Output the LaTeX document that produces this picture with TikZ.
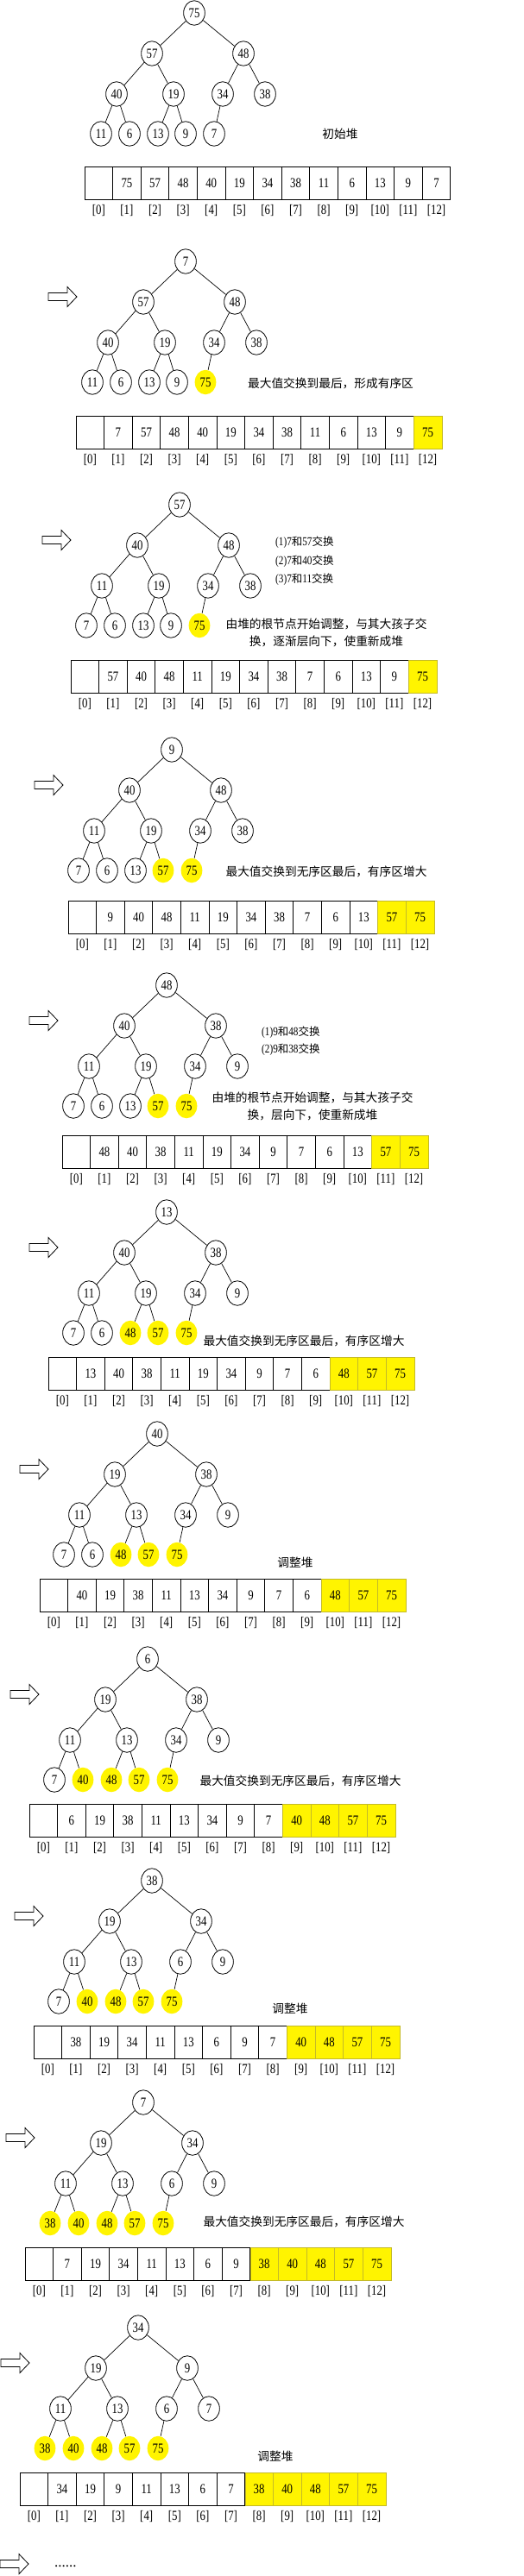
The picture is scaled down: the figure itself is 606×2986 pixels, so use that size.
\documentclass[tikz,border=0pt]{standalone}
\usepackage{fontspec}
\setmainfont{Liberation Serif}
\newfontfamily\numfont[FakeStretch=0.8]{Liberation Serif}
\newfontfamily\cjk{Noto Sans CJK SC}
\usetikzlibrary{shapes.geometric}
\definecolor{sortedyellow}{RGB}{255,244,0}
\definecolor{sortedline}{RGB}{196,186,40}

\newcommand\zh[1]{{\fontsize{12.5}{15}\selectfont\cjk #1}}

% one stage: prefix, root x/y, array corner x/y, sorted count, values [1]..[12]
\newcommand\heapstage[7]{%
  \node[cell] (#1-a0) at (#4+16.3,#5+19) {};
  \node[idx] (#1-i0) at (#4+16.3,#5+51) {[0]};
  \foreach \v [count=\i] in {#7}{
    \pgfmathsetmacro\dx{{0,-49,57,-90,-24,33,82,-108,-75,-42,-10,23}[\i-1]}
    \pgfmathsetmacro\dy{{0,47,47,94,94,94,94,140,140,140,140,140}[\i-1]}
    \ifnum\i>\numexpr12-#6\relax
      \tikzset{nodelook/.style={sortednode},celllook/.style={sortedcell}}
    \else
      \tikzset{nodelook/.style={heapnode},celllook/.style={cell}}
    \fi
    \node[nodelook] (#1-\i) at (#2+\dx,#3+\dy) {\v};
    \node[celllook] (#1-a\i) at (#4+32.6*\i+16.3,#5+19) {\v};
    \node[idx] (#1-i\i) at (#4+32.6*\i+16.3,#5+51) {[\i]};
  }
  \foreach \i in {2,...,12}{
    \pgfmathtruncatemacro\p{\i/2}
    \draw[link] (#1-\p) -- (#1-\i);
  }
}

\begin{document}
\begin{tikzpicture}[x=1pt,y=-1pt,
    heapnode/.style={ellipse,draw,line width=0.8pt,minimum width=24.7pt,minimum height=28.5pt,
      inner sep=0pt,font=\numfont\fontsize{16}{18}\selectfont},
    sortednode/.style={heapnode,draw=none,fill=sortedyellow},
    cell/.style={draw,line width=0.9pt,minimum width=32.6pt,minimum height=38pt,inner sep=0pt,
      font=\numfont\fontsize{16}{18}\selectfont},
    sortedcell/.style={cell,fill=sortedyellow,draw=sortedline,line width=0.5pt},
    idx/.style={inner sep=0pt,font=\numfont\fontsize{16}{18}\selectfont},
    link/.style={line width=0.7pt},
    note/.style={inner sep=0pt,font=\fontsize{13.7}{16}\selectfont\cjk},
    swapnote/.style={inner sep=0pt,anchor=west,font=\numfont\fontsize{14}{16}\selectfont},
    fat arrow/.pic={\draw[line width=0.8pt] (0,-4.5) -- (22,-4.5) -- (22,-11.5) -- (33,0)
      -- (22,11.5) -- (22,4.5) -- (0,4.5) -- cycle;}]
    \fill[white] (0,0) rectangle (606,2986);
    \useasboundingbox (0,0) rectangle (606,2986);

    \heapstage{s1}{225}{15}{98}{193}{0}{75,57,48,40,19,34,38,11,6,13,9,7}
    \node[note] (n1) at (394,155) {初始堆};

    \pic at (56,344) {fat arrow};
    \heapstage{s2}{215}{303}{88}{482}{1}{7,57,48,40,19,34,38,11,6,13,9,75}
    \node[note] (n2) at (383,444) {最大值交换到最后，形成有序区};

    \pic at (49,626) {fat arrow};
    \heapstage{s3}{208}{585}{82}{765}{1}{57,40,48,11,19,34,38,7,6,13,9,75}
    \node[swapnote] (n3a) at (319,629) {(1)7\zh{和}57\zh{交换}};
    \node[swapnote] (n3b) at (319,651) {(2)7\zh{和}40\zh{交换}};
    \node[swapnote] (n3c) at (319,672) {(3)7\zh{和}11\zh{交换}};
    \node[note] (n3d) at (378,723) {由堆的根节点开始调整，与其大孩子交};
    \node[note] (n3e) at (378,743) {换，逐渐层向下，使重新成堆};

    \pic at (40,910) {fat arrow};
    \heapstage{s4}{199}{869}{79}{1044}{2}{9,40,48,11,19,34,38,7,6,13,57,75}
    \node[note] (n4) at (378,1010) {最大值交换到无序区最后，有序区增大};

    \pic at (34,1183) {fat arrow};
    \heapstage{s5}{193}{1142}{72}{1316}{2}{48,40,38,11,19,34,9,7,6,13,57,75}
    \node[swapnote] (n5a) at (303,1197) {(1)9\zh{和}48\zh{交换}};
    \node[swapnote] (n5b) at (303,1217) {(2)9\zh{和}38\zh{交换}};
    \node[note] (n5c) at (362,1272) {由堆的根节点开始调整，与其大孩子交};
    \node[note] (n5d) at (362,1292) {换，层向下，使重新成堆};

    \pic at (34,1446) {fat arrow};
    \heapstage{s6}{193}{1405}{56}{1573}{3}{13,40,38,11,19,34,9,7,6,48,57,75}
    \node[note] (n6) at (352,1554) {最大值交换到无序区最后，有序区增大};

    \pic at (23,1703) {fat arrow};
    \heapstage{s7}{182}{1662}{46}{1830}{3}{40,19,38,11,13,34,9,7,6,48,57,75}
    \node[note] (n7) at (342,1811) {调整堆};

    \pic at (12,1964) {fat arrow};
    \heapstage{s8}{171}{1923}{34}{2091}{4}{6,19,38,11,13,34,9,7,40,48,57,75}
    \node[note] (n8) at (348,2064) {最大值交换到无序区最后，有序区增大};

    \pic at (17,2221) {fat arrow};
    \heapstage{s9}{176}{2180}{39}{2348}{4}{38,19,34,11,13,6,9,7,40,48,57,75}
    \node[note] (n9) at (336,2328) {调整堆};

    \pic at (7,2478) {fat arrow};
    \heapstage{s10}{166}{2437}{29}{2605}{5}{7,19,34,11,13,6,9,38,40,48,57,75}
    \node[note] (n10) at (352,2575) {最大值交换到无序区最后，有序区增大};

    \pic at (1,2739) {fat arrow};
    \heapstage{s11}{160}{2698}{23}{2866}{5}{34,19,9,11,13,6,7,38,40,48,57,75}
    \node[note] (n11) at (319,2847) {调整堆};

    \pic at (0,2972) {fat arrow};
    \node[inner sep=0pt,anchor=base west,font=\fontsize{17}{18}\selectfont] (more) at (63,2975) {......};
\end{tikzpicture}
\end{document}
